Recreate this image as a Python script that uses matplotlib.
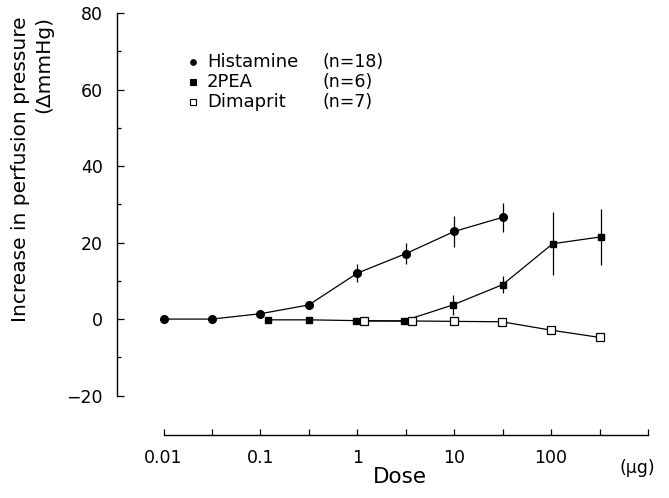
import matplotlib
matplotlib.use("Agg")
import matplotlib.pyplot as plt
from matplotlib.ticker import FixedLocator, NullFormatter, FixedFormatter
import numpy as np

plt.rcParams['font.family'] = ['DejaVu Sans']

# Data
hist_dose = [0.01, 0.0316, 0.1, 0.316, 1, 3.16, 10, 31.6]
hist_val = [0.0, 0.0, 1.4, 3.7, 12.0, 17.1, 22.9, 26.6]
hist_err = [0, 0, 0, 0, 2.4, 2.8, 4.0, 3.8]

pea_dose = [0.12, 0.316, 0.96, 3.0, 9.7, 31.6, 104, 330]
pea_val = [-0.2, -0.2, -0.4, -0.5, 3.7, 9.0, 19.7, 21.5]
pea_err = [0, 0, 0, 0, 2.7, 2.2, 8.3, 7.3]

dim_dose = [1.18, 3.7, 9.9, 31.0, 100, 318]
dim_val = [-0.5, -0.5, -0.6, -0.7, -2.9, -4.8]

legend_names = ["Histamine", "2PEA", "Dimaprit"]
legend_n = ["(n=18)", "(n=6)", "(n=7)"]

y_major = [-20, 0, 20, 40, 60, 80]
y_minor = [-10, 10, 30, 50, 70]
x_major = [0.01, 0.1, 1, 10, 100, 1000]
x_labels = ["0.01", "0.1", "1", "10", "100", ""]
x_minor = [0.0316, 0.316, 3.16, 31.6, 316]

W, H = 669, 498
fig = plt.figure(figsize=(W / 100, H / 100), dpi=100)

def fx(px):
    return px / W

def fy(py):
    return 1 - py / H

ax = fig.add_axes([fx(117), fy(435), fx(648) - fx(117), fy(13) - fy(435)])
ax.set_xscale('log')
ax.set_xlim(0.00331, 1000)
ax.set_ylim(-30.3, 80)

lw = 0.9
ax.errorbar(hist_dose, hist_val, yerr=hist_err, color='black', lw=lw,
            marker='o', ms=5.5, mfc='black', mec='black', elinewidth=lw,
            capsize=0, clip_on=False, zorder=3)
ax.errorbar(pea_dose, pea_val, yerr=pea_err, color='black', lw=lw,
            marker='s', ms=5, mfc='black', mec='black', elinewidth=lw,
            capsize=0, clip_on=False, zorder=3)
ax.plot(dim_dose, dim_val, color='black', lw=lw, marker='s', ms=5.5,
        mfc='white', mec='black', mew=0.9, clip_on=False, zorder=4)

for s in ['top', 'right']:
    ax.spines[s].set_visible(False)
ax.spines['left'].set_bounds(-20, 80)
ax.spines['bottom'].set_bounds(0.01, 1000)
ax.spines['left'].set_linewidth(1.0)
ax.spines['bottom'].set_linewidth(1.0)

ax.yaxis.set_major_locator(FixedLocator(y_major))
ax.yaxis.set_minor_locator(FixedLocator(y_minor))
ax.xaxis.set_major_locator(FixedLocator(x_major))
ax.xaxis.set_major_formatter(FixedFormatter(x_labels))
ax.xaxis.set_minor_locator(FixedLocator(x_minor))
ax.xaxis.set_minor_formatter(NullFormatter())

ax.tick_params(axis='both', which='both', direction='in', width=0.9, labelsize=12.5)
ax.tick_params(axis='y', which='major', length=5, pad=10)
ax.tick_params(axis='y', which='minor', length=3)
ax.tick_params(axis='x', which='both', length=4, pad=10)

# y label (two lines, right-aligned in rotated frame)
fig.text(fx(32), fy(16), "Increase in perfusion pressure\n(\u0394mmHg)",
         rotation=90, ha='center', va='top', multialignment='right',
         fontsize=14.5, linespacing=1.3)

fig.text(fx(400), fy(477), "Dose", ha='center', va='center', fontsize=15.5)
fig.text(fx(637), fy(468), "(\u00b5g)", ha='center', va='center', fontsize=12.5)

# legend
rows = [62, 82, 102]
mk = [dict(marker='o', mfc='black'), dict(marker='s', mfc='black'),
      dict(marker='s', mfc='white')]
for i in range(3):
    fig.lines.append(plt.Line2D([fx(193)], [fy(rows[i])], transform=fig.transFigure,
                                ls='none', ms=4, mec='black', mew=0.8, **mk[i]))
    fig.text(fx(207), fy(rows[i]), legend_names[i], ha='left', va='center', fontsize=13)
    fig.text(fx(322), fy(rows[i]), legend_n[i], ha='left', va='center', fontsize=12.5)

fig.savefig("out.png", dpi=100)
